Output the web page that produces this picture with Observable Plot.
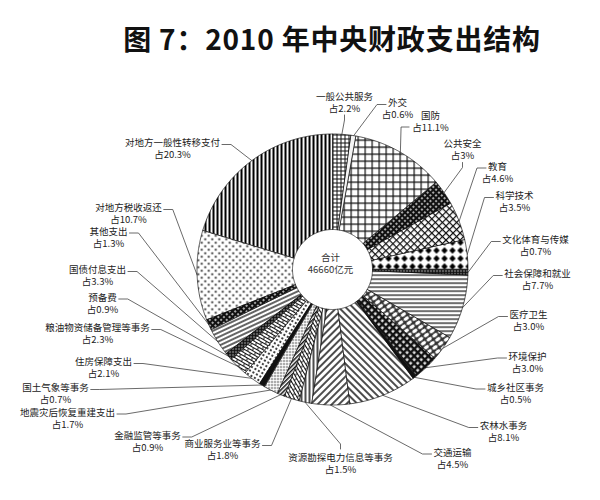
<!DOCTYPE html>
<html><head><meta charset="utf-8">
<script src="https://cdn.jsdelivr.net/npm/d3@7"></script>
<script src="https://cdn.jsdelivr.net/npm/@observablehq/plot@0.6"></script>
<style>
body{margin:0;background:#fff;width:600px;}
#title{height:62px;box-sizing:border-box;padding-top:22px;padding-left:64px;text-align:center;font:bold 28px/32px "Noto Sans CJK SC",sans-serif;letter-spacing:0.8px;color:#111;white-space:nowrap;}
</style></head><body>
<div id="title">图 7：2010 年中央财政支出结构</div>
<div id="chart"></div>
<script>
// ---- data ----
const categories = ["一般公共服务","外交","国防","公共安全","教育","科学技术","文化体育与传媒","社会保障和就业","医疗卫生","环境保护","城乡社区事务","农林水事务","交通运输","资源勘探电力信息等事务","商业服务业等事务","金融监管等事务","地震灾后恢复重建支出","国土气象等事务","住房保障支出","粮油物资储备管理等事务","预备费","国债付息支出","其他支出","对地方税收返还","对地方一般性转移支付"];
const shares = ["2.2","0.6","11.1","3","4.6","3.5","0.7","7.7","3.0","3.0","0.5","8.1","4.5","1.5","1.8","0.9","1.7","0.7","2.1","2.3","0.9","3.3","1.3","10.7","20.3"];
const totalLabel = ["合计","46660亿元"];

// ---- styles (pattern per slice) ----
const fills = ["url(#gridFine)","#f4f4f4","url(#grid7)","url(#darkCheck)","url(#lattice)","url(#diamonds)","url(#darkDots)","url(#hlines)","url(#weave)","url(#darkCross)","#111","url(#diagBack)","url(#diagFwd)","url(#vlines)","url(#bricksA)","url(#grayDiag)","url(#dotsSmall)","#111","url(#dotLattice)","url(#bricksB)","url(#darkDots)","url(#slantLines)","url(#darkCheck)","url(#polka)","url(#vdark)"];

// ---- label layout: offset of label block centre from pie centre (px, screen y down) and leader attach side ----
const labelLayout = [[12,-167.5,"b"],[65,-161,"r1"],[98,-148.5,"r2"],[130,-120,"b"],[165,-97.5,"r1"],[182,-68,"r1"],[203,-24,"r1"],[205,10,"r1"],[196,51,"r1"],[195,92.5,"r1"],[183,123.5,"r1"],[171,162,"r1"],[120,188.5,"r1"],[8,193.5,"t"],[-110,180,"l1"],[-185,171.5,"l1"],[-265,148.5,"l1"],[-277,124,"l1"],[-229,98,"l1"],[-235,64,"l1"],[-230,33.5,"l1"],[-235,6,"l1"],[-224,-32.5,"l1"],[-204,-56,"l1"],[-160,-121,"l1"]];

// ---- geometry ----
const W = 600, H = 438, cx = 332, cy = 207, R = 135.5, r0 = 40;
const fs = 9.5;
const values = shares.map(Number);
const total = d3.sum(values);
let acc = 0;
const slices = categories.map((c, i) => {
  const a0 = acc / total * 2 * Math.PI; acc += values[i];
  const a1 = acc / total * 2 * Math.PI;
  return {c, i, a0, a1, mid: (a0 + a1) / 2};
});
const pts = [];
for (const s of slices) {
  const n = Math.max(2, Math.ceil((s.a1 - s.a0) / (Math.PI / 360)));
  for (let k = 0; k <= n; k++) { const a = s.a0 + (s.a1 - s.a0) * k / n; pts.push({c: s.c, x: R * Math.sin(a), y: R * Math.cos(a), fill: fills[s.i]}); }
  for (let k = n; k >= 0; k--) { const a = s.a0 + (s.a1 - s.a0) * k / n; pts.push({c: s.c, x: r0 * Math.sin(a), y: r0 * Math.cos(a), fill: fills[s.i]}); }
}
const lineH = 12;
const labels = [], leaders = [];
slices.forEach((s, i) => {
  const [dx, dyDown, side] = labelLayout[i];
  const lx = dx, ly = -dyDown;
  const y1 = ly + lineH / 2, y2 = ly - lineH / 2;
  const w1 = categories[i].length * fs;
  const w2 = fs + shares[i].length * fs * 0.56 + fs * 0.85;
  labels.push({x: lx, y: ly, t: `${categories[i]}\n占${shares[i]}%`});
  const p0 = [R * Math.sin(s.mid), R * Math.cos(s.mid)];
  let p1, p2;
  if (side === "l1") { p2 = [lx + w1 / 2 + 2, y1 - 2]; p1 = [p2[0] + 9, p2[1]]; }
  else if (side === "r1") { p2 = [lx - w1 / 2 - 2, y1 - 2]; p1 = [p2[0] - 9, p2[1]]; }
  else if (side === "r2") { p2 = [lx - w2 / 2 - 2, y2]; p1 = [p2[0] - 8, p2[1]]; }
  else if (side === "b") { p2 = [lx, y2 - 7]; p1 = [lx, y2 - 12]; }
  else { p2 = [lx, y1 + 8]; p1 = [lx, y1 + 13]; }
  [p0, p1, p2].forEach(p => leaders.push({id: i, x: p[0], y: p[1]}));
});

const chart = Plot.plot({
  width: W, height: H, margin: 0,
  style: {fontFamily: "'Noto Sans CJK SC', sans-serif", fontSize: "10px", background: "#fff"},
  x: {domain: [-cx, W - cx], axis: null},
  y: {domain: [-(H - cy), cy], axis: null},
  color: {type: "identity"},
  marks: [
    Plot.line(leaders, {x: "x", y: "y", z: "id", stroke: "#444", strokeWidth: 0.8}),
    Plot.line(pts, {x: "x", y: "y", z: "c", fill: "fill", stroke: "#111", strokeWidth: 0.7, curve: "linear-closed"}),
    Plot.text(labels, {x: "x", y: "y", text: "t", lineHeight: lineH / fs, fill: "#222", fontSize: fs}),
    Plot.text([totalLabel.join("\n")], {x: () => 0, y: () => 0, text: d => d, dx: -2, dy: -6, lineHeight: 1.2, fill: "#333", fontSize: 9.5})
  ]
});
d3.select(chart).insert("defs", ":first-child").html(`
<pattern id="gridFine" width="4" height="4" patternUnits="userSpaceOnUse"><rect width="4" height="4" fill="#fff"/><path d="M0 .5H4M.5 0V4" stroke="#111" stroke-width="1"/></pattern>
<pattern id="grid7" width="7" height="7" patternUnits="userSpaceOnUse"><rect width="7" height="7" fill="#fff"/><path d="M0 .6H7M.6 0V7" stroke="#111" stroke-width="1.2"/></pattern>
<pattern id="darkCheck" width="4" height="4" patternUnits="userSpaceOnUse" patternTransform="rotate(45)"><rect width="4" height="4" fill="#111"/><rect x="1.2" y="1.2" width="1.6" height="1.6" fill="#fff"/></pattern>
<pattern id="lattice" width="5" height="5" patternUnits="userSpaceOnUse" patternTransform="rotate(45)"><rect width="5" height="5" fill="#fff"/><path d="M0 .6H5M.6 0V5" stroke="#111" stroke-width="1.2"/></pattern>
<pattern id="diamonds" width="8" height="8" patternUnits="userSpaceOnUse"><rect width="8" height="8" fill="#fff"/><path d="M4 .8L7.2 4L4 7.2L.8 4Z" fill="#000"/></pattern>
<pattern id="darkDots" width="3" height="3" patternUnits="userSpaceOnUse"><rect width="3" height="3" fill="#111"/><circle cx="1.5" cy="1.5" r=".7" fill="#fff"/></pattern>
<pattern id="hlines" width="4" height="4" patternUnits="userSpaceOnUse"><rect width="4" height="4" fill="#fff"/><path d="M0 .6H4" stroke="#111" stroke-width="1.2"/></pattern>
<pattern id="weave" width="7" height="5" patternUnits="userSpaceOnUse" patternTransform="rotate(-35)"><rect width="7" height="5" fill="#333"/><ellipse cx="3.5" cy="2.5" rx="2.9" ry="1.8" fill="#fff"/></pattern>
<pattern id="darkCross" width="5" height="5" patternUnits="userSpaceOnUse" patternTransform="rotate(45)"><rect width="5" height="5" fill="#111"/><rect x="1.4" y="1.4" width="2.4" height="2.4" fill="#fff"/></pattern>
<pattern id="diagBack" width="5" height="5" patternUnits="userSpaceOnUse" patternTransform="rotate(-45)"><rect width="5" height="5" fill="#fff"/><path d="M1 0V5" stroke="#111" stroke-width="1.5"/></pattern>
<pattern id="diagFwd" width="5" height="5" patternUnits="userSpaceOnUse" patternTransform="rotate(45)"><rect width="5" height="5" fill="#fff"/><path d="M1 0V5" stroke="#111" stroke-width="1.5"/></pattern>
<pattern id="vlines" width="4" height="4" patternUnits="userSpaceOnUse"><rect width="4" height="4" fill="#fff"/><path d="M1 0V4" stroke="#111" stroke-width="1.5"/></pattern>
<pattern id="bricksA" width="8" height="6" patternUnits="userSpaceOnUse" patternTransform="rotate(60)"><rect width="8" height="6" fill="#fff"/><path d="M0 .5H8M0 3.5H8M2 .5V3.5M6 3.5V6.5" stroke="#111" stroke-width="1"/></pattern>
<pattern id="bricksB" width="8" height="6" patternUnits="userSpaceOnUse" patternTransform="rotate(30)"><rect width="8" height="6" fill="#fff"/><path d="M0 .5H8M0 3.5H8M2 .5V3.5M6 3.5V6.5" stroke="#111" stroke-width="1"/></pattern>
<pattern id="grayDiag" width="3" height="3" patternUnits="userSpaceOnUse" patternTransform="rotate(45)"><rect width="3" height="3" fill="#fff"/><path d="M.75 0V3" stroke="#111" stroke-width="1.5"/></pattern>
<pattern id="dotsSmall" width="3" height="3" patternUnits="userSpaceOnUse"><rect width="3" height="3" fill="#fff"/><circle cx="1.5" cy="1.5" r=".8" fill="#111"/></pattern>
<pattern id="dotLattice" width="4" height="4" patternUnits="userSpaceOnUse" patternTransform="rotate(30)"><rect width="4" height="4" fill="#fff"/><circle cx="2" cy="2" r="1.1" fill="#111"/></pattern>
<pattern id="slantLines" width="4" height="4" patternUnits="userSpaceOnUse" patternTransform="rotate(-25)"><rect width="4" height="4" fill="#fff"/><path d="M0 1H4" stroke="#111" stroke-width="1.3"/></pattern>
<pattern id="polka" width="7" height="7" patternUnits="userSpaceOnUse"><rect width="7" height="7" fill="#fff"/><circle cx="1.75" cy="1.75" r="1.1" fill="#222"/><circle cx="5.25" cy="5.25" r="1.1" fill="#222"/></pattern>
<pattern id="vdark" width="4" height="4" patternUnits="userSpaceOnUse"><rect width="4" height="4" fill="#fff"/><path d="M1 0V4" stroke="#000" stroke-width="2.1"/></pattern>
`);
document.getElementById("chart").appendChild(chart);
</script></body></html>
